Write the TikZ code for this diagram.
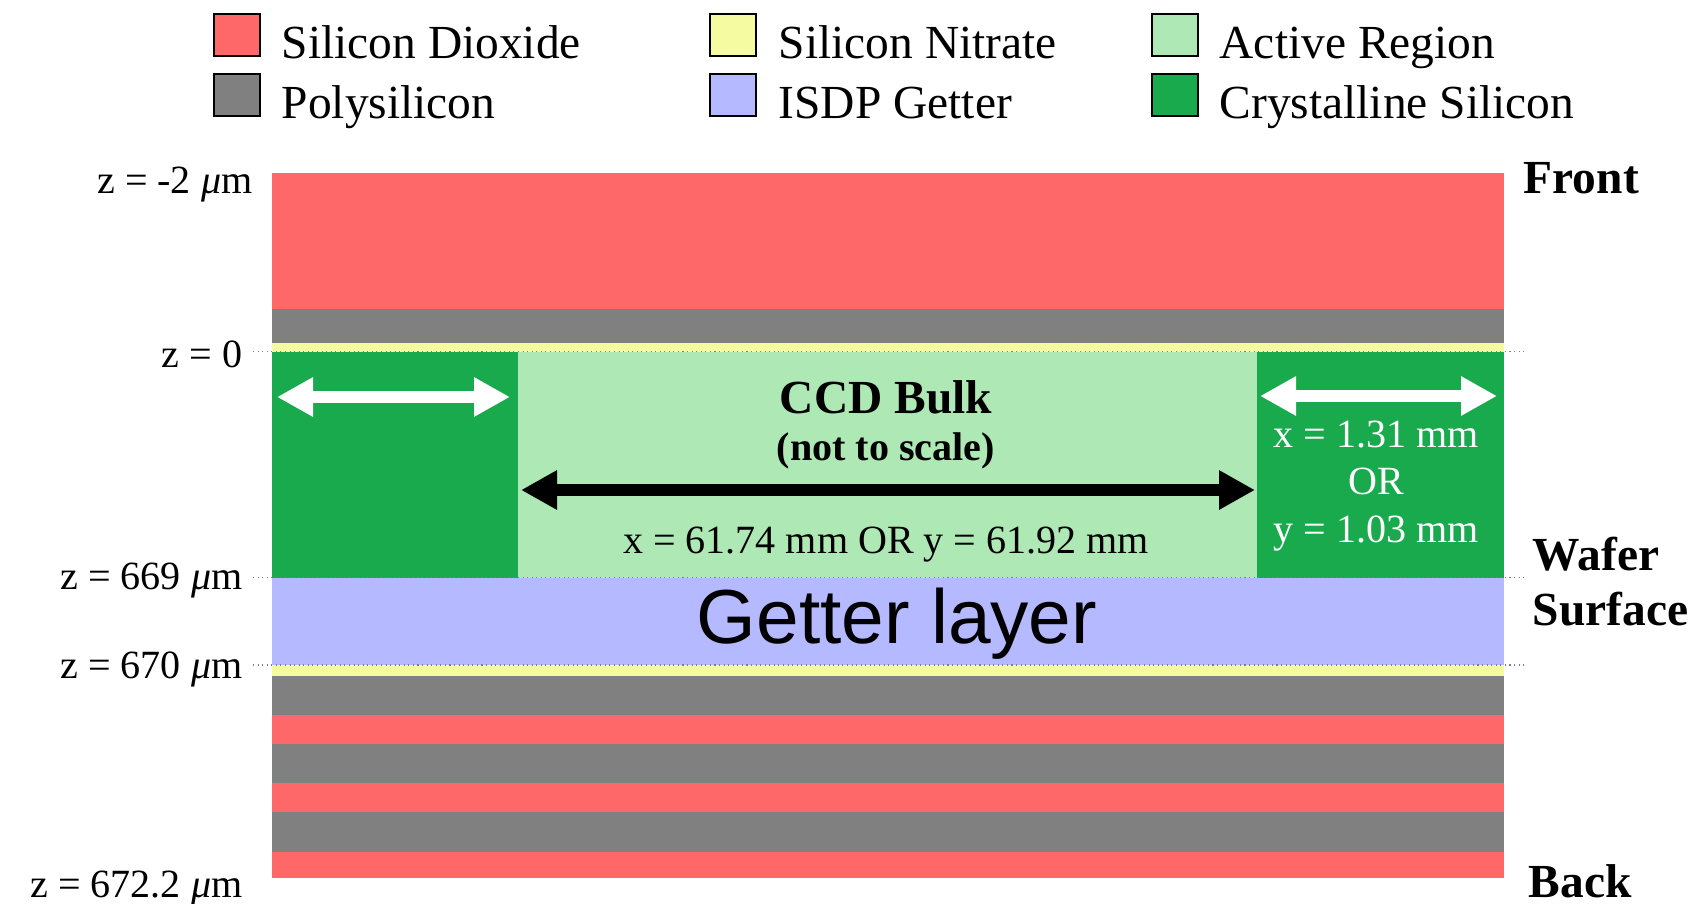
\documentclass[tikz,border=0pt]{standalone}
\usepackage{fontspec}
\setmainfont{Liberation Serif}
\newfontfamily\getterfont{Liberation Sans}
\usetikzlibrary{arrows.meta}
\definecolor{oxide}{RGB}{255,104,104}
\definecolor{poly}{RGB}{128,128,128}
\definecolor{nitrate}{RGB}{244,251,160}
\definecolor{getter}{RGB}{181,185,255}
\definecolor{active}{RGB}{174,232,180}
\definecolor{crystal}{RGB}{24,170,76}
\tikzset{
  key/.style={draw=black, line width=0.5pt, minimum width=4.6mm, minimum height=4.2mm, inner sep=0pt},
  keytext/.style={anchor=base west, inner sep=0pt, font=\fontsize{13.5}{16}\selectfont},
  zlabel/.style={anchor=base east, inner sep=0pt, font=\fontsize{11.4}{13.6}\selectfont},
  sidelabel/.style={anchor=base west, inner sep=0pt, font=\fontsize{13.5}{16}\selectfont\bfseries},
  zline/.style={gray, line width=0.3pt, densely dotted},
  dimarrow/.style={line width=1.25mm, {Triangle[length=3.6mm,width=3.7mm]}-{Triangle[length=3.6mm,width=3.7mm]}}
}
\begin{document}
\begin{tikzpicture}[x=0.1mm, y=-0.1mm]
\useasboundingbox[fill=white] (0,0) rectangle (1694,903);
\fill[oxide] (272,172.7) rectangle (1504,309.3);
\fill[poly] (272,309.3) rectangle (1504,342.7);
\fill[nitrate] (272,342.7) rectangle (1504,351.7);
\fill[crystal] (272,351.7) rectangle (518,577.7);
\fill[active] (518,351.7) rectangle (1257,577.7);
\fill[crystal] (1257,351.7) rectangle (1504,577.7);
\fill[getter] (272,577.7) rectangle (1504,665);
\fill[nitrate] (272,665) rectangle (1504,675.7);
\fill[poly] (272,675.7) rectangle (1504,715);
\fill[oxide] (272,715) rectangle (1504,744);
\fill[poly] (272,744) rectangle (1504,783.3);
\fill[oxide] (272,783.3) rectangle (1504,811.7);
\fill[poly] (272,811.7) rectangle (1504,851.7);
\fill[oxide] (272,851.7) rectangle (1504,878.3);
\draw[zline] (253,351.7) -- (1525,351.7);
\draw[zline] (253,577.7) -- (1525,577.7);
\draw[zline] (253,665) -- (1525,665);

\node[key, fill=oxide] (kOxide) at (237,35) {};
\node[keytext] (tOxide) at (281,59) {Silicon Dioxide};
\node[key, fill=poly] (kPoly) at (237,95) {};
\node[keytext] (tPoly) at (281,119) {Polysilicon};
\node[key, fill=nitrate] (kNitrate) at (733,35) {};
\node[keytext] (tNitrate) at (778,59) {Silicon Nitrate};
\node[key, fill=getter] (kGetter) at (733,95) {};
\node[keytext] (tGetter) at (778,119) {ISDP Getter};
\node[key, fill=active] (kActive) at (1175,35) {};
\node[keytext] (tActive) at (1219,59) {Active Region};
\node[key, fill=crystal] (kCrystal) at (1175,95) {};
\node[keytext] (tCrystal) at (1219,119) {Crystalline Silicon};

\node[zlabel] (zTop) at (253,193) {z = -2 \textit{μ}m};
\node[zlabel] (zZero) at (243,367) {z = 0};
\node[zlabel] (zWafer) at (243,589) {z = 669 \textit{μ}m};
\node[zlabel] (zGetter) at (243,678) {z = 670 \textit{μ}m};
\node[zlabel] (zBack) at (243,897) {z = 672.2 \textit{μ}m};

\node[sidelabel] (front) at (1523,194) {Front};
\node[sidelabel] (wafer) at (1532,570) {Wafer};
\node[sidelabel] (surface) at (1532,625) {Surface};
\node[sidelabel] (back) at (1528,897) {Back};

\node[anchor=base, inner sep=0pt, font=\fontsize{13.5}{16}\selectfont\bfseries] (bulk) at (886,413) {CCD Bulk};
\node[anchor=base, inner sep=0pt, font=\fontsize{11.4}{13.6}\selectfont\bfseries] (scale) at (886,460) {(not to scale)};
\node[anchor=base, inner sep=0pt, font=\fontsize{11.4}{13.6}\selectfont] (bulkwidth) at (886,553) {x = 61.74 mm OR y = 61.92 mm};
\node[align=center, inner sep=0pt, text=white, font=\fontsize{11.4}{13.6}\selectfont] (edgewidth) at (1376,486) {x = 1.31 mm\\OR\\y = 1.03 mm};
\node[anchor=base, inner sep=0pt, font=\getterfont\fontsize{21.8}{26}\selectfont] (getterlbl) at (897,643) {Getter layer};

\coordinate (bulkL) at (521,490);
\coordinate (bulkR) at (1255,490);
\coordinate (edgeLa) at (277,397);
\coordinate (edgeLb) at (510,397);
\coordinate (edgeRa) at (1260,396);
\coordinate (edgeRb) at (1497,396);
\draw[dimarrow, black] (bulkL) -- (bulkR);
\draw[dimarrow, white] (edgeLa) -- (edgeLb);
\draw[dimarrow, white] (edgeRa) -- (edgeRb);
\end{tikzpicture}
\end{document}
